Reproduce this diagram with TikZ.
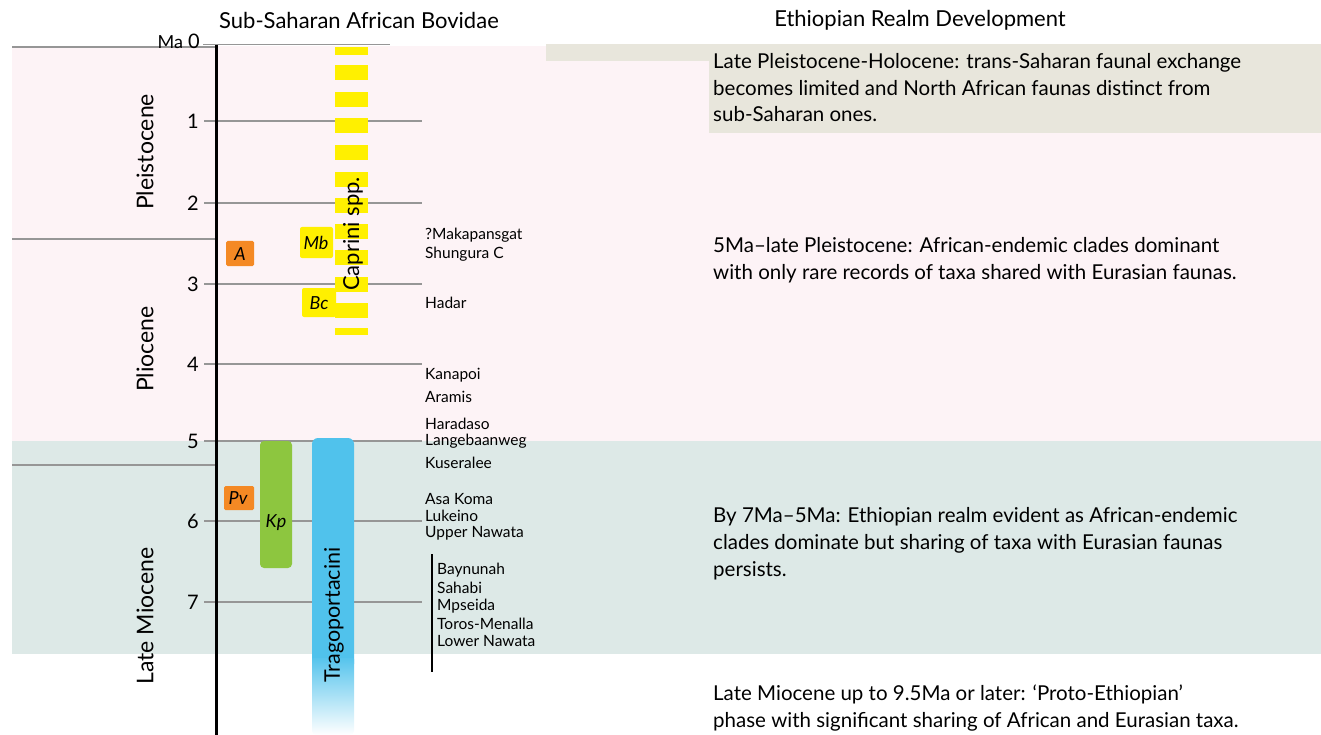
\documentclass[tikz,border=0pt]{standalone}
\usepackage{fontspec}
\setmainfont{Lato}
\definecolor{pinkbg}{RGB}{253,243,246}
\definecolor{tealbg}{RGB}{221,233,231}
\definecolor{beigebg}{RGB}{232,230,220}
\definecolor{orangebox}{RGB}{244,137,36}
\definecolor{yellowbox}{RGB}{255,240,0}
\definecolor{greenbar}{RGB}{141,198,63}
\definecolor{bluebar}{RGB}{80,194,236}
\definecolor{tickgray}{RGB}{150,150,150}
\begin{document}
\begin{tikzpicture}[x=1pt,y=-1pt,
  tickline/.style={draw=tickgray, line width=1.5pt},
  numlabel/.style={anchor=east, inner sep=0pt, font=\fontsize{20}{21}\selectfont},
  epoch/.style={rotate=90, inner sep=0pt, font=\fontsize{23}{24}\selectfont},
  header/.style={inner sep=0pt, font=\fontsize{22}{23}\selectfont},
  site/.style={anchor=west, inner sep=0pt, font=\fontsize{15.5}{17}\selectfont},
  desc/.style={anchor=base west, inner sep=0pt, align=left, font=\fontsize{20.5}{26.6}\selectfont},
  taxon/.style={inner sep=0pt, font=\fontsize{18}{19}\selectfont\itshape},
  obox/.style={fill=orangebox, rounded corners=1.5pt},
  ybox/.style={fill=yellowbox, rounded corners=2pt}]
\useasboundingbox (0,0) rectangle (1321,735);
% backgrounds
\fill[pinkbg] (12,46) rectangle (1321,441);
\fill[tealbg] (12,441) rectangle (1321,654);
\fill[beigebg] (546,44) rectangle (1321,61);
\fill[beigebg] (709,44) rectangle (1321,133);
% headers
\node[header] (h1) at (359,20) {Sub-Saharan African Bovidae};
\node[header] (h2) at (920,20) {Ethiopian Realm Development};
% epoch boundary lines
\draw[tickline] (12,47) -- (216,47);
\draw[tickline] (12,239) -- (216,239);
\draw[tickline] (12,465) -- (216,465);
% ticks
\draw[tickline] (203,44.5) -- (390,44.5);
\foreach \m/\y in {1/121,2/203,3/284,4/364,5/441,6/521,7/602}{
  \draw[tickline] (204,\y) -- (422,\y);
  \node[numlabel] (n\m) at (199,\y) {\m};
}
\node[numlabel] (n0) at (200,41) {{\fontsize{18}{18}\selectfont Ma} 0};
% axis
\draw[line width=3pt] (216,45) -- (216,735);
% epoch labels
\node[epoch] (e1) at (145,152) {Pleistocene};
\node[epoch] (e2) at (145,349) {Pliocene};
\node[epoch] (e3) at (145,616) {Late Miocene};
% Caprini dashes
\fill[yellowbox] (335,47) rectangle (368,55);
\foreach \y in {65,92,118,145,172,198,224,250,277,303}{
  \fill[yellowbox] (335,\y) rectangle (368,\y+15);
}
\fill[yellowbox] (335,328) rectangle (368,335);
\node[rotate=90, inner sep=0pt, font=\fontsize{22}{23}\selectfont] (cap) at (353,234) {Caprini spp.};
% taxon boxes
\fill[obox] (226,241) rectangle (254,266);
\node[taxon] (tA) at (240,254) {A};
\fill[ybox] (300,227) rectangle (333,258);
\node[taxon] (tMb) at (316,243) {Mb};
\fill[ybox] (302,288) rectangle (336,317);
\node[taxon] (tBc) at (319,303) {Bc};
\fill[obox] (224,486) rectangle (254,510);
\node[taxon] (tPv) at (238,498) {Pv};
\fill[greenbar, rounded corners=4pt] (260,441) rectangle (292,568);
\node[taxon] (tKp) at (276,523) {Kp};
% Tragoportacini bar
\fill[bluebar, rounded corners=6pt] (312,438) rectangle (354,670);
\shade[top color=bluebar, bottom color=white, rounded corners=4pt] (312,655) rectangle (354,735);
\fill[bluebar] (312,650) rectangle (354,658);
\node[rotate=90, inner sep=0pt, font=\fontsize{21.5}{22}\selectfont] (trag) at (334,615) {Tragoportacini};
% sites
\node[site] (s1) at (425,235) {?Makapansgat};
\node[site] (s2) at (425,254) {Shungura C};
\node[site] (s3) at (425,303) {Hadar};
\node[site] (s4) at (425,375) {Kanapoi};
\node[site] (s5) at (425,397) {Aramis};
\node[site] (s6) at (425,424) {Haradaso};
\node[site] (s7) at (425,441) {Langebaanweg};
\node[site] (s8) at (425,463) {Kuseralee};
\node[site] (s9) at (425,499) {Asa Koma};
\node[site] (s10) at (425,516) {Lukeino};
\node[site] (s11) at (425,533) {Upper Nawata};
\node[site] (s12) at (437,570) {Baynunah};
\node[site] (s13) at (437,588) {Sahabi};
\node[site] (s14) at (437,606) {Mpseida};
\node[site] (s15) at (437,624) {Toros-Menalla};
\node[site] (s16) at (437,641) {Lower Nawata};
\draw[line width=2.5pt] (432,554) -- (432,672);
% descriptions (base = baseline of last line)
\node[desc] (d1) at (713,122) {Late Pleistocene-Holocene: trans-Saharan faunal exchange\\becomes limited and North African faunas distinct from\\sub-Saharan ones.};
\node[desc] (d2) at (713,279.5) {5Ma–late Pleistocene: African-endemic clades dominant\\with only rare records of taxa shared with Eurasian faunas.};
\node[desc] (d3) at (713,576) {By 7Ma–5Ma: Ethiopian realm evident as African-endemic\\clades dominate but sharing of taxa with Eurasian faunas\\persists.};
\node[desc] (d4) at (713,727) {Late Miocene up to 9.5Ma or later: ‘Proto-Ethiopian’\\phase with significant sharing of African and Eurasian taxa.};
\end{tikzpicture}
\end{document}
